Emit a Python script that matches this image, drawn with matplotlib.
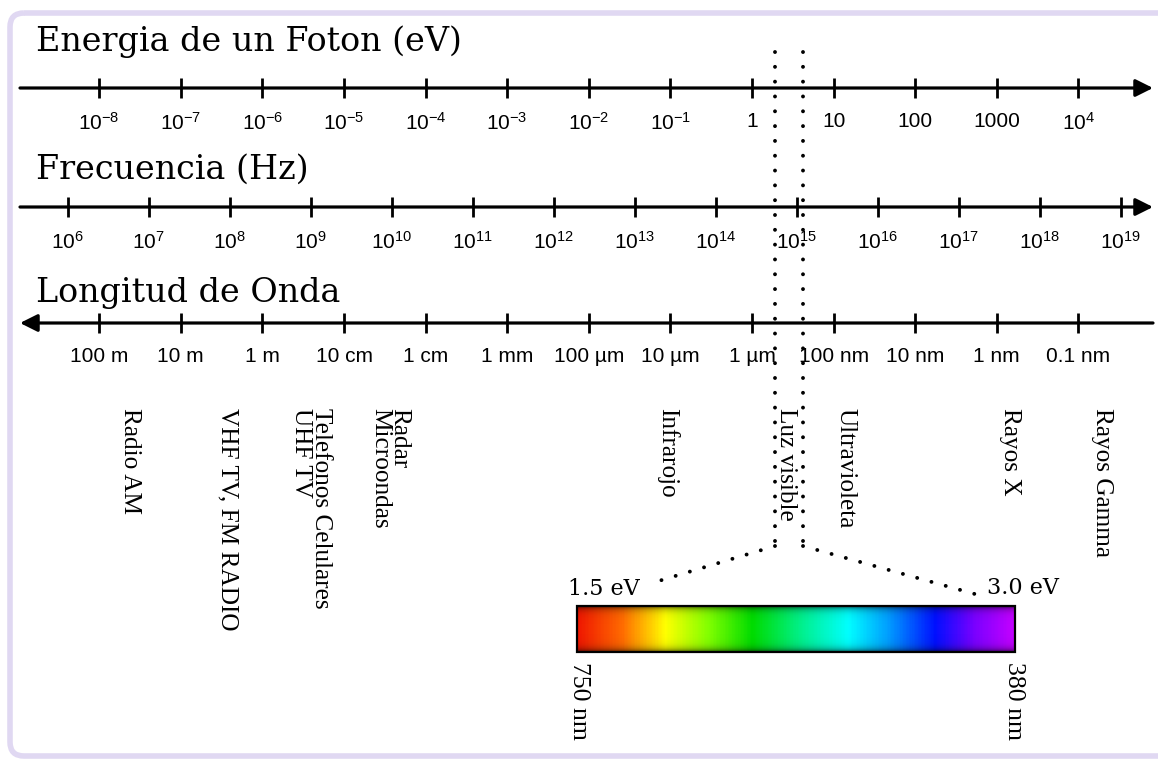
import numpy as np
import matplotlib
matplotlib.use('Agg')
import matplotlib.pyplot as plt
from matplotlib.colors import LinearSegmentedColormap
from matplotlib.patches import FancyBboxPatch, Rectangle

plt.rcParams['font.family'] = 'Liberation Sans'
plt.rcParams['mathtext.fontset'] = 'custom'
plt.rcParams['mathtext.rm'] = 'Liberation Sans'
plt.rcParams['mathtext.default'] = 'regular'

W, H = 1158, 759

# Energia de un foton (exponentes de 10, eV)
energia_exp = [-8, -7, -6, -5, -4, -3, -2, -1, 0, 1, 2, 3, 4]
energia_lbl = ['$10^{-8}$', '$10^{-7}$', '$10^{-6}$', '$10^{-5}$', '$10^{-4}$',
               '$10^{-3}$', '$10^{-2}$', '$10^{-1}$', '1', '10', '100', '1000', '$10^{4}$']

# Frecuencia (exponentes de 10, Hz)
frec_exp = list(range(6, 20))
frec_lbl = ['$10^{%d}$' % e for e in frec_exp]

# Longitud de onda (exponentes de 10, m)
onda_exp = [2, 1, 0, -1, -2, -3, -4, -5, -6, -7, -8, -9, -10]
onda_lbl = ['100 m', '10 m', '1 m', '10 cm', '1 cm', '1 mm', '100 µm', '10 µm',
            '1 µm', '100 nm', '10 nm', '1 nm', '0.1 nm']

# Bandas del espectro
bandas = ['Radio AM', 'VHF TV, FM RADIO', 'Telefonos Celulares\nUHF TV',
          'Radar\nMicroondas', 'Infrarojo', 'Luz visible', 'Ultravioleta',
          'Rayos X', 'Rayos Gamma']
bandas_x = [130, 228, 311, 390, 668, 786, 846, 1010, 1102]

# Colores del espectro visible (de 750 nm a 380 nm)
espectro_pos = [0.0, 0.10, 0.20, 0.30, 0.40, 0.51, 0.62, 0.71, 0.82, 0.91, 1.0]
espectro_col = ['#f01800', '#ff6a00', '#ffff00', '#80ff00', '#00dc00', '#00f08a',
                '#00ffff', '#00a0ff', '#0010ff', '#7a00ff', '#c400ff']

fig = plt.figure(figsize=(W / 100, H / 100), dpi=100)
fig.patch.set_facecolor('white')

# fondo en pixeles
bg = fig.add_axes([0, 0, 1, 1])
bg.set_xlim(0, W)
bg.set_ylim(H, 0)
bg.axis('off')

marco = FancyBboxPatch((10, 13), W + 40, 743, boxstyle='round,pad=0,rounding_size=14',
                       fill=False, edgecolor='#e0d8f2', lw=4, clip_on=False)
bg.add_patch(marco)

# titulos
titulos = ['Energia de un Foton (eV)', 'Frecuencia (Hz)', 'Longitud de Onda']
titulos_y = [42, 170, 293]
for t, y in zip(titulos, titulos_y):
    bg.text(36, y, t, fontsize=24, family='DejaVu Serif', va='center', ha='left')


def eje(y_px, lim, ticks, labels, izquierda=False):
    ax = fig.add_axes([0, 1 - y_px / H, 1, 0.0005])
    ax.set_xscale('log')
    ax.set_xlim(*lim)
    ax.set_ylim(0, 1)
    for s in ax.spines.values():
        s.set_visible(False)
    ax.patch.set_visible(False)
    ax.set_yticks([])
    ax.set_xticks([10.0 ** e for e in ticks])
    ax.set_xticklabels(labels)
    ax.minorticks_off()
    ax.tick_params(axis='x', direction='inout', length=15, width=2, pad=10,
                   labelsize=15)
    a, b = (20 / W, 1153 / W)
    if izquierda:
        a, b = b, a
    ax.annotate('', xy=(b, 0), xytext=(a, 0), xycoords='axes fraction',
                annotation_clip=False,
                arrowprops=dict(arrowstyle='-|>,head_length=0.7,head_width=0.35',
                                color='k', lw=2.3, shrinkA=0, shrinkB=0,
                                mutation_scale=15))
    return ax


x0e, de = 99.2, 81.6
x0f, df = 67.5, 81.0
eje(88, (10 ** (-8 - x0e / de), 10 ** (-8 + (W - x0e) / de)), energia_exp, energia_lbl)
eje(207, (10 ** (6 - x0f / df), 10 ** (6 + (W - x0f) / df)), frec_exp, frec_lbl)
eje(323, (10 ** (2 + x0e / de), 10 ** (2 - (W - x0e) / de)), onda_exp, onda_lbl,
    izquierda=True)

# lineas punteadas de la luz visible
punteo = dict(color='k', lw=2.8, linestyle=(0, (0.01, 3.8)), dash_capstyle='round')
bg.plot([775, 775], [52, 541], **punteo)
bg.plot([803, 803], [52, 541], **punteo)
bg.plot([775, 652], [546, 583], **punteo)
bg.plot([803, 982], [546, 596], **punteo)

# etiquetas de bandas
for t, x in zip(bandas, bandas_x):
    bg.text(x, 408, t, rotation=-90, ha='center', va='top', fontsize=18.2,
            family='Liberation Serif', linespacing=0.85, multialignment='left')

# barra del espectro visible
cmap = LinearSegmentedColormap.from_list('vis', list(zip(espectro_pos, espectro_col)))
x1, x2, y1, y2 = 577, 1015, 606, 652
grad = np.linspace(0, 1, 400)[None, :]
bg.imshow(grad, cmap=cmap, aspect='auto', extent=[x1, x2, y2, y1],
          interpolation='bilinear', zorder=2)
filas = np.linspace(0, y2 - y1, 60)
d = np.minimum(filas, (y2 - y1) - filas)
sombra = np.zeros((60, 1, 4))
sombra[:, 0, 3] = 0.6 * np.exp(-d / 3.5)
bg.imshow(sombra, aspect='auto', extent=[x1, x2, y2, y1], interpolation='bilinear', zorder=3)
bg.add_patch(Rectangle((x1, y1), x2 - x1, y2 - y1, fill=False, edgecolor='k', lw=1.6, zorder=4))
bg.set_xlim(0, W)
bg.set_ylim(H, 0)

bg.text(568, 589, '1.5 eV', fontsize=16, family='DejaVu Serif', va='center', ha='left')
bg.text(987, 588, '3.0 eV', fontsize=16, family='DejaVu Serif', va='center', ha='left')
bg.text(579, 662, '750 nm', rotation=-90, ha='center', va='top', fontsize=18.5,
        family='Liberation Serif')
bg.text(1014, 662, '380 nm', rotation=-90, ha='center', va='top', fontsize=18.5,
        family='Liberation Serif')

fig.savefig('out.png', dpi=100)
